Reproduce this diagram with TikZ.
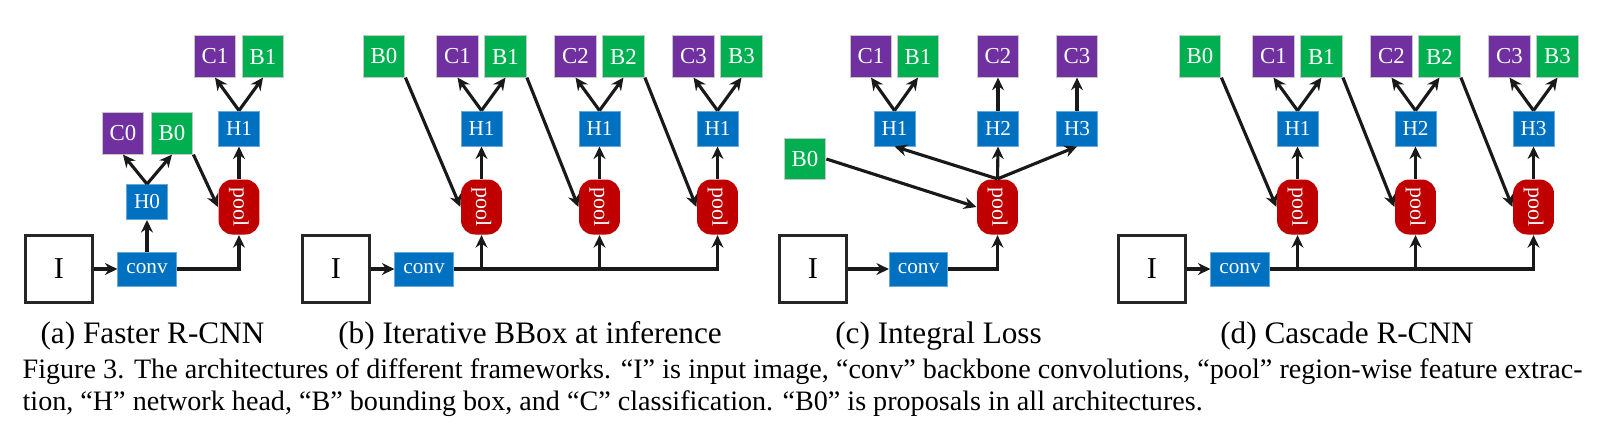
\documentclass[tikz,border=0pt]{standalone}
\usepackage{fontspec}
\setmainfont{Liberation Serif}
\usetikzlibrary{arrows.meta}
\definecolor{clspurple}{RGB}{112,48,160}
\definecolor{bbxgreen}{RGB}{0,176,80}
\definecolor{headblue}{RGB}{0,112,192}
\definecolor{poolred}{RGB}{192,0,0}
\tikzset{
    flow/.style={draw=black!90,line width=1pt,-{Stealth[length=4pt,width=3.8pt]}},
    smallbox/.style={inner sep=0pt,text=white,draw=gray!45,line width=0.3pt},
    clsbox/.style={smallbox,fill=clspurple,minimum width=13.4pt,minimum height=13.2pt,font=\fontsize{7.3}{8}\selectfont},
    bbxbox/.style={smallbox,fill=bbxgreen,minimum width=13.4pt,minimum height=13.2pt,font=\fontsize{7.3}{8}\selectfont},
    headbox/.style={smallbox,fill=headblue,draw=headblue!60,minimum width=13.1pt,minimum height=11.2pt,font=\fontsize{6.8}{8}\selectfont},
    convbox/.style={smallbox,fill=headblue,draw=headblue!60,minimum width=18.6pt,minimum height=10.9pt,font=\fontsize{6.8}{8}\selectfont},
    poolbox/.style={inner sep=0pt,text=white,fill=poolred,rounded corners=4.5pt,minimum width=13.1pt,minimum height=17.6pt,font=\fontsize{7}{8}\selectfont},
    imgbox/.style={draw=black!85,line width=1.2pt,fill=white,minimum size=21.4pt,inner sep=0pt,font=\fontsize{9.7}{10}\selectfont},
    subcap/.style={anchor=base,inner sep=0pt,font=\fontsize{10}{12}\selectfont},
    figcap/.style={anchor=base west,inner sep=0pt,font=\fontsize{9}{10}\selectfont}
}

\begin{document}
\begin{tikzpicture}[x=0.32pt,y=-0.32pt]
    \useasboundingbox (0,0) rectangle (1608,440);

    % (a) Faster R-CNN
    \node[imgbox] (a-I) at (59,269) {I};
    \node[convbox] (a-conv) at (147,269) {conv};
    \node[headbox] (a-H0) at (147,202) {H0};
    \node[clsbox] (a-C0) at (123,133.5) {C0};
    \node[bbxbox] (a-B0) at (172,133.5) {B0};
    \node[poolbox] (a-pool) at (239,207) {\rotatebox{-90}{pool}};
    \node[headbox] (a-H1) at (239,128.5) {H1};
    \node[clsbox] (a-C1) at (215,56.5) {C1};
    \node[bbxbox] (a-B1) at (263,56.5) {B1};

    \draw[flow] (a-I) -- (a-conv);
    \draw[flow] (a-conv) -- (a-H0);
    \draw[flow] (a-H0.north) -- (a-C0.south);
    \draw[flow] (a-H0.north) -- (a-B0.south);
    \draw[flow] (a-conv.east) -| (a-pool.south);
    \draw[flow] (a-B0.south east) -- (a-pool.west);
    \draw[flow] (a-pool) -- (a-H1);
    \draw[flow] (a-H1.north) -- (a-C1.south);
    \draw[flow] (a-H1.north) -- (a-B1.south);

    % (b) Iterative BBox
    \node[imgbox] (b-I) at (336,269) {I};
    \node[convbox] (b-conv) at (424,269) {conv};
    \node[bbxbox] (b-B0) at (384,56.5) {B0};
    \node[poolbox] (b-pool1) at (481.5,207) {\rotatebox{-90}{pool}};
    \node[headbox] (b-H1) at (481.5,128.5) {H1};
    \node[clsbox] (b-C1) at (457.5,56.5) {C1};
    \node[bbxbox] (b-B1) at (505.5,56.5) {B1};
    \node[poolbox] (b-pool2) at (599.5,207) {\rotatebox{-90}{pool}};
    \node[headbox] (b-H2) at (599.5,128.5) {H1};
    \node[clsbox] (b-C2) at (575.5,56.5) {C2};
    \node[bbxbox] (b-B2) at (623.5,56.5) {B2};
    \node[poolbox] (b-pool3) at (717.5,207) {\rotatebox{-90}{pool}};
    \node[headbox] (b-H3) at (717.5,128.5) {H1};
    \node[clsbox] (b-C3) at (693.5,56.5) {C3};
    \node[bbxbox] (b-B3) at (741.5,56.5) {B3};

    \draw[flow] (b-I) -- (b-conv);
    \draw[flow] (b-conv.east) -| (b-pool3.south);
    \draw[flow] (b-conv.east -| b-pool1) -- (b-pool1.south);
    \draw[flow] (b-conv.east -| b-pool2) -- (b-pool2.south);
    \draw[flow] (b-B0.south east) -- (b-pool1.west);
    \draw[flow] (b-B1.south east) -- (b-pool2.west);
    \draw[flow] (b-B2.south east) -- (b-pool3.west);
    \draw[flow] (b-pool1) -- (b-H1);
    \draw[flow] (b-pool2) -- (b-H2);
    \draw[flow] (b-pool3) -- (b-H3);
    \draw[flow] (b-H1.north) -- (b-C1.south);
    \draw[flow] (b-H1.north) -- (b-B1.south);
    \draw[flow] (b-H2.north) -- (b-C2.south);
    \draw[flow] (b-H2.north) -- (b-B2.south);
    \draw[flow] (b-H3.north) -- (b-C3.south);
    \draw[flow] (b-H3.north) -- (b-B3.south);

    % (c) Integral Loss
    \node[imgbox] (c-I) at (813,269) {I};
    \node[convbox] (c-conv) at (918.5,269) {conv};
    \node[poolbox] (c-pool) at (997.5,207) {\rotatebox{-90}{pool}};
    \node[bbxbox] (c-B0) at (805,159) {B0};
    \node[headbox] (c-H1) at (894.5,128.5) {H1};
    \node[clsbox] (c-C1) at (871,56.5) {C1};
    \node[bbxbox] (c-B1) at (918,56.5) {B1};
    \node[headbox] (c-H2) at (998,128.5) {H2};
    \node[clsbox] (c-C2) at (998,56.5) {C2};
    \node[headbox] (c-H3) at (1077,128.5) {H3};
    \node[clsbox] (c-C3) at (1077,56.5) {C3};

    \draw[flow] (c-I) -- (c-conv);
    \draw[flow] (c-conv.east) -| (c-pool.south);
    \draw[flow] (c-B0.east) -- (c-pool.west);
    \draw[flow] (c-pool.north) -- (c-H1.south);
    \draw[flow] (c-pool.north) -- (c-H2.south);
    \draw[flow] (c-pool.north) -- (c-H3.south);
    \draw[flow] (c-H1.north) -- (c-C1.south);
    \draw[flow] (c-H1.north) -- (c-B1.south);
    \draw[flow] (c-H2) -- (c-C2);
    \draw[flow] (c-H3) -- (c-C3);

    % (d) Cascade R-CNN
    \node[imgbox] (d-I) at (1152,269) {I};
    \node[convbox] (d-conv) at (1240,269) {conv};
    \node[bbxbox] (d-B0) at (1200,56.5) {B0};
    \node[poolbox] (d-pool1) at (1297.5,207) {\rotatebox{-90}{pool}};
    \node[headbox] (d-H1) at (1297.5,128.5) {H1};
    \node[clsbox] (d-C1) at (1273.5,56.5) {C1};
    \node[bbxbox] (d-B1) at (1321.5,56.5) {B1};
    \node[poolbox] (d-pool2) at (1415.5,207) {\rotatebox{-90}{pool}};
    \node[headbox] (d-H2) at (1415.5,128.5) {H2};
    \node[clsbox] (d-C2) at (1391.5,56.5) {C2};
    \node[bbxbox] (d-B2) at (1439.5,56.5) {B2};
    \node[poolbox] (d-pool3) at (1533.5,207) {\rotatebox{-90}{pool}};
    \node[headbox] (d-H3) at (1533.5,128.5) {H3};
    \node[clsbox] (d-C3) at (1509.5,56.5) {C3};
    \node[bbxbox] (d-B3) at (1557.5,56.5) {B3};

    \draw[flow] (d-I) -- (d-conv);
    \draw[flow] (d-conv.east) -| (d-pool3.south);
    \draw[flow] (d-conv.east -| d-pool1) -- (d-pool1.south);
    \draw[flow] (d-conv.east -| d-pool2) -- (d-pool2.south);
    \draw[flow] (d-B0.south east) -- (d-pool1.west);
    \draw[flow] (d-B1.south east) -- (d-pool2.west);
    \draw[flow] (d-B2.south east) -- (d-pool3.west);
    \draw[flow] (d-pool1) -- (d-H1);
    \draw[flow] (d-pool2) -- (d-H2);
    \draw[flow] (d-pool3) -- (d-H3);
    \draw[flow] (d-H1.north) -- (d-C1.south);
    \draw[flow] (d-H1.north) -- (d-B1.south);
    \draw[flow] (d-H2.north) -- (d-C2.south);
    \draw[flow] (d-H2.north) -- (d-B2.south);
    \draw[flow] (d-H3.north) -- (d-C3.south);
    \draw[flow] (d-H3.north) -- (d-B3.south);

    % captions
    \node[subcap] (a-cap) at (152.5,343) {(a) Faster R-CNN};
    \node[subcap] (b-cap) at (530,343) {(b) Iterative BBox at inference};
    \node[subcap] (c-cap) at (938.5,343) {(c) Integral Loss};
    \node[subcap] (d-cap) at (1347,343) {(d) Cascade R-CNN};
    \node[figcap] (fig-line1) at (22,378) {\makebox[499.2pt][s]{Figure 3. The architectures of different frameworks. “I” is input image, “conv” backbone convolutions, “pool” region-wise feature extrac-}};
    \node[figcap] (fig-line2) at (22,410) {tion, “H” network head, “B” bounding box, and “C” classification. “B0” is proposals in all architectures.};
\end{tikzpicture}
\end{document}
